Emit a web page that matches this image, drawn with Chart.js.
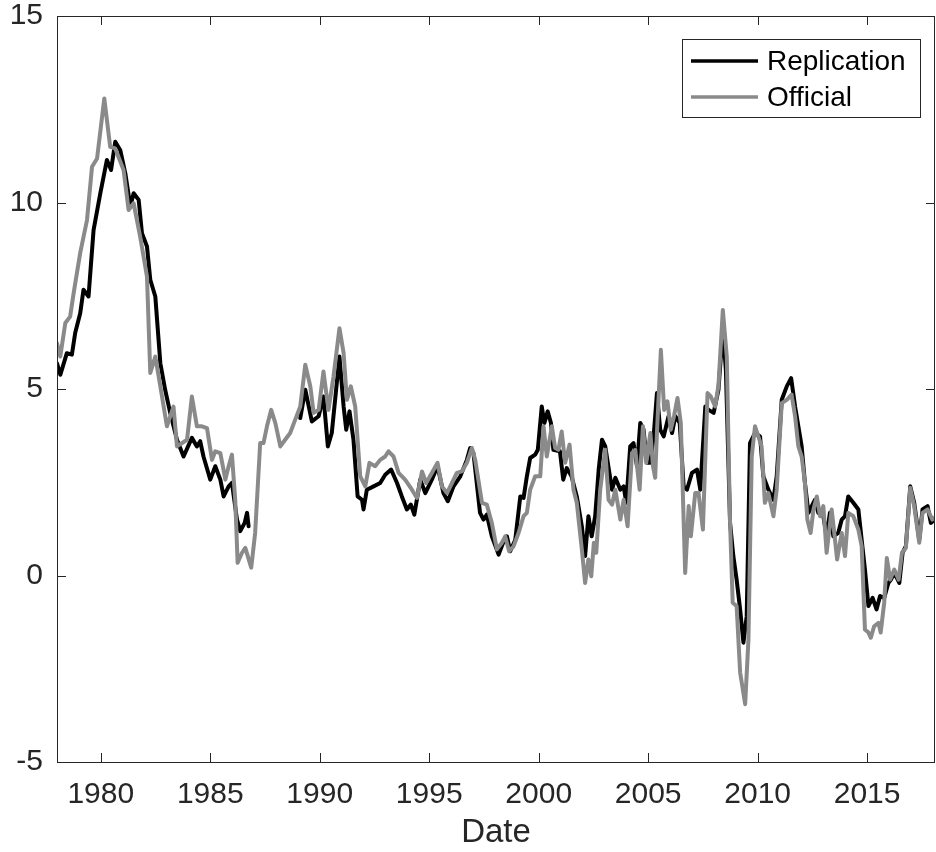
<!DOCTYPE html>
<html>
<head>
<meta charset="utf-8">
<script src="https://cdn.jsdelivr.net/npm/chart.js@4.4.1/dist/chart.umd.min.js"></script>
<style>
  html, body { margin: 0; padding: 0; background: #fff; }
  canvas { display: block; }
</style>
</head>
<body>
<canvas id="chart" width="936" height="852"></canvas>
<script>
'use strict';
/* Replication vs Official series */

const repDates = [
  1978.00, 1978.15, 1978.45, 1978.68, 1978.83, 1979.06, 1979.21, 1979.44, 1979.67, 1979.98,
  1980.28, 1980.47, 1980.66, 1980.89, 1981.12, 1981.35, 1981.50, 1981.73, 1981.88, 1982.11,
  1982.26, 1982.49, 1982.72, 1982.94, 1983.17, 1983.48, 1983.78, 1984.16, 1984.39, 1984.54,
  1984.69, 1985.00, 1985.23, 1985.46, 1985.61, 1985.84, 1985.99, 1986.22, 1986.37, 1986.57,
  1986.68, 1986.75, 1988.00, 1989.11, 1989.34, 1989.64, 1989.95, 1990.17, 1990.37, 1990.55,
  1990.90, 1991.09, 1991.21, 1991.36, 1991.54, 1991.73, 1991.93, 1992.00, 1992.15, 1992.46,
  1992.76, 1992.99, 1993.26, 1993.53, 1993.75, 1993.98, 1994.16, 1994.32, 1994.59, 1994.82,
  1995.12, 1995.38, 1995.65, 1995.85, 1996.11, 1996.42, 1996.72, 1996.87, 1997.02, 1997.32,
  1997.48, 1997.63, 1997.86, 1998.17, 1998.40, 1998.55, 1998.70, 1998.93, 1999.16, 1999.31,
  1999.46, 1999.61, 1999.84, 1999.96, 2000.14, 2000.26, 2000.41, 2000.56, 2000.67, 2000.97,
  2001.12, 2001.28, 2001.50, 2001.74, 2001.97, 2002.12, 2002.27, 2002.42, 2002.58, 2002.74,
  2002.89, 2003.04, 2003.35, 2003.50, 2003.73, 2003.88, 2004.00, 2004.18, 2004.33, 2004.49,
  2004.64, 2004.79, 2004.94, 2005.10, 2005.25, 2005.40, 2005.55, 2005.71, 2005.93, 2006.09,
  2006.24, 2006.44, 2006.62, 2006.77, 2007.00, 2007.23, 2007.38, 2007.61, 2007.76, 2007.99,
  2008.21, 2008.41, 2008.55, 2008.74, 2008.89, 2009.04, 2009.20, 2009.35, 2009.50, 2009.65,
  2009.88, 2010.11, 2010.26, 2010.49, 2010.72, 2010.87, 2011.10, 2011.33, 2011.53, 2011.71,
  2011.91, 2012.01, 2012.16, 2012.32, 2012.47, 2012.62, 2012.77, 2013.00, 2013.15, 2013.30,
  2013.46, 2013.68, 2013.84, 2013.99, 2014.14, 2014.37, 2014.60, 2014.75, 2014.90, 2015.06,
  2015.25, 2015.43, 2015.59, 2015.78, 2015.97, 2016.10, 2016.24, 2016.47, 2016.62, 2016.77,
  2016.97, 2017.15, 2017.38, 2017.53, 2017.76, 2017.91, 2018.08
];
const repValues = [
  5.69, 5.38, 5.96, 5.92, 6.50, 7.03, 7.66, 7.48, 9.26, 10.25,
  11.14, 10.87, 11.63, 11.40, 10.78, 9.89, 10.25, 10.07, 9.18, 8.82,
  7.93, 7.48, 5.69, 4.98, 4.36, 3.64, 3.19, 3.69, 3.46, 3.60,
  3.19, 2.57, 2.93, 2.57, 2.12, 2.39, 2.48, 1.50, 1.19, 1.41,
  1.68, 1.32, null, 4.22, 4.98, 4.13, 4.27, 4.80, 3.46, 3.82,
  5.87, 4.53, 3.91, 4.40, 3.64, 2.12, 2.03, 1.77, 2.30, 2.39,
  2.48, 2.70, 2.84, 2.48, 2.12, 1.77, 1.90, 1.63, 2.57, 2.21,
  2.57, 2.93, 2.21, 1.99, 2.39, 2.66, 3.10, 3.42, 3.28, 1.68,
  1.50, 1.63, 1.05, 0.56, 0.92, 1.05, 0.65, 0.96, 2.12, 2.08,
  2.66, 3.15, 3.24, 3.37, 4.53, 4.09, 4.40, 4.09, 3.37, 3.33,
  2.57, 2.88, 2.66, 2.12, 1.32, 0.52, 1.59, 1.05, 1.59, 2.84,
  3.64, 3.46, 2.30, 2.62, 2.30, 2.39, 1.95, 3.46, 3.55, 2.93,
  4.09, 3.91, 3.02, 3.02, 3.73, 4.89, 3.91, 3.73, 4.27, 3.82,
  4.27, 4.09, 2.39, 2.30, 2.75, 2.84, 2.30, 4.53, 4.44, 4.36,
  4.98, 6.60, 5.50, 1.41, 0.52, -0.11, -0.91, -1.80, -1.09, 3.55,
  3.82, 3.73, 2.66, 2.30, 2.03, 2.66, 4.71, 5.07, 5.29, 4.53,
  3.82, 3.46, 2.48, 1.68, 1.86, 2.03, 1.68, 1.59, 1.05, 1.68,
  1.05, 1.14, 1.50, 1.59, 2.12, 1.95, 1.77, 0.96, 0.16, -0.82,
  -0.60, -0.91, -0.55, -0.60, -0.20, -0.10, 0.07, -0.20, 0.61, 0.79,
  2.39, 1.95, 0.96, 1.77, 1.86, 1.41, 1.50
];

const offDates = [
  1978.00, 1978.15, 1978.38, 1978.60, 1978.76, 1979.06, 1979.37, 1979.60, 1979.83, 1980.16,
  1980.43, 1980.66, 1981.04, 1981.27, 1981.50, 1981.80, 1982.11, 1982.26, 1982.49, 1982.72,
  1983.02, 1983.32, 1983.48, 1983.94, 1984.16, 1984.39, 1984.62, 1984.85, 1985.08, 1985.23,
  1985.46, 1985.69, 1985.84, 1985.99, 1986.14, 1986.25, 1986.45, 1986.60, 1986.87, 1987.05,
  1987.28, 1987.43, 1987.59, 1987.78, 1987.97, 1988.20, 1988.42, 1988.65, 1988.88, 1989.11,
  1989.34, 1989.57, 1989.72, 1989.95, 1990.17, 1990.40, 1990.63, 1990.90, 1991.09, 1991.24,
  1991.42, 1991.62, 1991.85, 1992.08, 1992.27, 1992.53, 1992.76, 1992.99, 1993.14, 1993.37,
  1993.60, 1993.90, 1994.21, 1994.44, 1994.67, 1994.86, 1995.12, 1995.38, 1995.58, 1995.81,
  1996.04, 1996.26, 1996.49, 1996.72, 1996.95, 1997.10, 1997.41, 1997.63, 1997.86, 1998.09,
  1998.32, 1998.47, 1998.65, 1998.85, 1999.08, 1999.31, 1999.46, 1999.61, 1999.84, 2000.07,
  2000.22, 2000.37, 2000.60, 2000.75, 2000.90, 2001.05, 2001.21, 2001.41, 2001.59, 2001.74,
  2001.97, 2002.12, 2002.27, 2002.40, 2002.52, 2002.63, 2002.81, 2003.04, 2003.19, 2003.35,
  2003.50, 2003.73, 2003.88, 2004.06, 2004.26, 2004.41, 2004.61, 2004.76, 2004.91, 2005.10,
  2005.22, 2005.32, 2005.40, 2005.58, 2005.73, 2005.88, 2006.03, 2006.18, 2006.34, 2006.49,
  2006.69, 2006.85, 2006.95, 2007.15, 2007.30, 2007.50, 2007.71, 2007.86, 2008.06, 2008.21,
  2008.41, 2008.59, 2008.74, 2008.86, 2009.04, 2009.20, 2009.43, 2009.58, 2009.73, 2009.88,
  2010.03, 2010.18, 2010.33, 2010.49, 2010.72, 2010.87, 2011.10, 2011.33, 2011.55, 2011.71,
  2011.86, 2012.01, 2012.16, 2012.27, 2012.42, 2012.55, 2012.70, 2012.85, 2013.00, 2013.15,
  2013.38, 2013.50, 2013.63, 2013.84, 2013.99, 2014.14, 2014.37, 2014.60, 2014.75, 2014.90,
  2015.06, 2015.17, 2015.32, 2015.52, 2015.62, 2015.78, 2015.90, 2016.05, 2016.24, 2016.44,
  2016.59, 2016.77, 2016.97, 2017.15, 2017.38, 2017.53, 2017.76, 2017.98, 2018.08
];
const offValues = [
  6.23, 5.87, 6.77, 6.94, 7.57, 8.65, 9.53, 10.96, 11.18, 12.79,
  11.49, 11.45, 10.87, 9.80, 9.98, 9.08, 8.01, 5.43, 5.87, 5.07,
  4.00, 4.53, 3.46, 3.64, 4.80, 4.00, 4.00, 3.95, 3.10, 3.33,
  3.28, 2.57, 2.93, 3.24, 2.03, 0.34, 0.61, 0.74, 0.21, 1.14,
  3.55, 3.55, 4.00, 4.44, 4.09, 3.46, 3.64, 3.82, 4.18, 4.53,
  5.65, 5.07, 4.36, 4.44, 5.47, 4.44, 5.34, 6.63, 5.96, 4.71,
  5.07, 4.53, 2.66, 2.39, 3.02, 2.93, 3.10, 3.19, 3.33, 3.19,
  2.75, 2.57, 2.30, 2.08, 2.79, 2.48, 2.75, 3.02, 2.39, 2.21,
  2.48, 2.75, 2.79, 3.02, 3.42, 3.10, 1.95, 1.90, 1.41, 0.70,
  0.88, 1.05, 0.65, 0.78, 1.14, 1.59, 1.68, 2.30, 2.66, 2.66,
  4.00, 3.19, 4.00, 3.42, 3.37, 3.86, 3.02, 3.51, 2.30, 1.95,
  0.70, -0.20, 0.43, -0.02, 0.88, 0.61, 2.30, 3.37, 2.03, 1.90,
  2.30, 1.50, 2.03, 1.32, 3.28, 3.37, 2.30, 4.00, 3.02, 3.82,
  2.93, 2.62, 3.82, 6.05, 4.44, 4.67, 3.91, 4.27, 4.76, 4.09,
  0.07, 1.86, 1.05, 2.21, 2.21, 1.23, 4.89, 4.80, 4.53, 5.10,
  7.12, 5.87, 1.41, -0.73, -0.82, -2.60, -3.45, -1.71, 3.19, 4.00,
  3.73, 3.46, 1.95, 2.21, 1.59, 2.30, 4.62, 4.71, 4.85, 4.27,
  3.46, 3.19, 2.48, 1.50, 1.14, 1.77, 2.12, 1.59, 1.86, 0.61,
  1.77, 1.14, 0.43, 1.14, 0.52, 1.68, 1.59, 1.23, 0.79, -1.45,
  -1.53, -1.67, -1.36, -1.27, -1.53, -0.73, 0.47, -0.11, 0.16, -0.11,
  0.61, 0.74, 2.35, 1.86, 0.88, 1.68, 1.77, 1.50, 1.55
];

const xTickValues = [1980, 1985, 1990, 1995, 2000, 2005, 2010, 2015];
const yTickValues = [-5, 0, 5, 10, 15];
const seriesNames = ['Replication', 'Official'];

const AXIS_COLOR = '#262626';
const FONT = "'Liberation Sans', Arial, Helvetica, sans-serif";
const TICK_LEN = 9;

const toPoints = (dates, values) => dates.map((d, i) => ({ x: d, y: values[i] }));

// MATLAB-style box with inward ticks on all four sides
const boxPlugin = {
  id: 'matlabBox',
  afterDatasetsDraw(chart) {
    const { ctx, chartArea: a, scales: { x, y } } = chart;
    ctx.save();
    ctx.strokeStyle = AXIS_COLOR;
    ctx.lineWidth = 1;
    ctx.beginPath();
    x.ticks.forEach(t => {
      const px = Math.round(x.getPixelForValue(t.value)) + 0.5;
      ctx.moveTo(px, a.bottom); ctx.lineTo(px, a.bottom - TICK_LEN);
      ctx.moveTo(px, a.top);    ctx.lineTo(px, a.top + TICK_LEN);
    });
    y.ticks.forEach(t => {
      const py = Math.round(y.getPixelForValue(t.value)) + 0.5;
      ctx.moveTo(a.left, py);  ctx.lineTo(a.left + TICK_LEN, py);
      ctx.moveTo(a.right, py); ctx.lineTo(a.right - TICK_LEN, py);
    });
    ctx.stroke();
    ctx.strokeRect(Math.round(a.left) + 0.5, Math.round(a.top) + 0.5,
                   Math.round(a.right - a.left) - 1, Math.round(a.bottom - a.top));
    ctx.restore();
  }
};

// legend box in the upper right of the plot
const legendPlugin = {
  id: 'insideLegend',
  afterDraw(chart) {
    const { ctx } = chart;
    const ds = chart.data.datasets;
    ctx.save();
    ctx.fillStyle = '#fff';
    ctx.fillRect(682, 39, 239, 78);
    ctx.strokeStyle = AXIS_COLOR;
    ctx.lineWidth = 1;
    ctx.strokeRect(682.5, 39.5, 238, 78);
    ds.forEach((d, i) => {
      const ly = 61 + i * 36;
      ctx.strokeStyle = d.borderColor;
      ctx.lineWidth = 3.5;
      ctx.beginPath();
      ctx.moveTo(691, ly); ctx.lineTo(758, ly);
      ctx.stroke();
      ctx.fillStyle = '#000';
      ctx.font = `28px ${FONT}`;
      ctx.textBaseline = 'alphabetic';
      ctx.fillText(d.label, 767, ly + 9);
    });
    ctx.restore();
  }
};

new Chart(document.getElementById('chart'), {
  type: 'line',
  data: {
    datasets: [
      {
        label: seriesNames[0],
        data: toPoints(repDates, repValues),
        borderColor: '#000000',
        borderWidth: 4,
        borderJoinStyle: 'round',
        borderCapStyle: 'round',
        pointRadius: 0,
        tension: 0,
        spanGaps: false,
        order: 2
      },
      {
        label: seriesNames[1],
        data: toPoints(offDates, offValues),
        borderColor: '#8a8a8a',
        borderWidth: 4,
        borderJoinStyle: 'round',
        borderCapStyle: 'round',
        pointRadius: 0,
        tension: 0,
        order: 1
      }
    ]
  },
  options: {
    responsive: false,
    animation: false,
    devicePixelRatio: 1,
    layout: { padding: { left: 0, right: 1, top: 16, bottom: 0 } },
    plugins: {
      legend: { display: false },
      tooltip: { enabled: false }
    },
    scales: {
      x: {
        type: 'linear',
        min: 1978.0,
        max: 2018.1,
        afterBuildTicks: s => { s.ticks = xTickValues.map(v => ({ value: v })); },
        afterFit: s => { s.height = 90; s.paddingLeft = 0; s.paddingRight = 0; },
        grid: { display: false, drawTicks: false },
        border: { display: false },
        ticks: {
          color: AXIS_COLOR,
          font: { family: FONT, size: 30, lineHeight: 1 },
          padding: 18,
          maxRotation: 0,
          autoSkip: false,
          callback: v => String(v)
        },
        title: {
          display: true,
          text: 'Date',
          color: AXIS_COLOR,
          font: { family: FONT, size: 33, lineHeight: 1 },
          padding: { top: 0, bottom: 3 }
        }
      },
      y: {
        type: 'linear',
        min: -5,
        max: 15,
        afterBuildTicks: s => { s.ticks = yTickValues.map(v => ({ value: v })); },
        afterFit: s => { s.width = 57; s.paddingTop = 0; s.paddingBottom = 0; },
        grid: { display: false, drawTicks: false },
        border: { display: false },
        ticks: {
          color: AXIS_COLOR,
          font: { family: FONT, size: 30, lineHeight: 1 },
          padding: 14,
          callback: v => String(v)
        }
      }
    }
  },
  plugins: [boxPlugin, legendPlugin]
});
</script>
</body>
</html>
